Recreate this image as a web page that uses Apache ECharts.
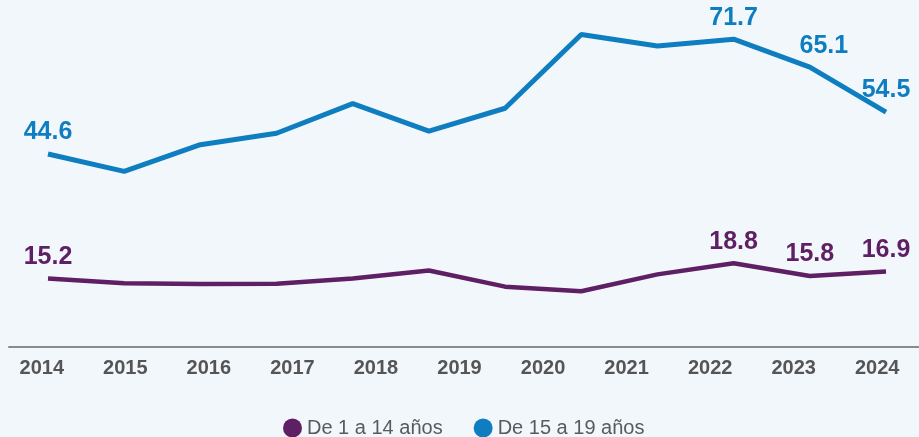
<!DOCTYPE html>
<html>
<head>
<meta charset="utf-8">
<script src="https://cdn.jsdelivr.net/npm/echarts@6/dist/echarts.min.js"></script>
<style>
  html, body { margin: 0; padding: 0; background: #f2f7fc; }
  #chart { width: 919px; height: 437px; }
</style>
</head>
<body>
<div id="chart"></div>
<script>
// Year tick labels along the bottom axis
const years = ['2014', '2015', '2016', '2017', '2018', '2019', '2020', '2021', '2022', '2023', '2024'];

// Series names
const seriesNames = ['De 1 a 14 años', 'De 15 a 19 años'];

// Plotted values (12 observations per series)
const youngValues = [15.2, 14.1, 13.9, 14.0, 15.2, 17.1, 13.3, 12.2, 16.2, 18.8, 15.8, 16.9];
const teenValues = [44.6, 40.5, 46.8, 49.5, 56.5, 50.0, 55.4, 72.8, 70.1, 71.7, 65.1, 54.5];

// Observations that carry a value label
const labelledPoints = [0, 9, 10, 11];

const purple = '#5e1f64';
const blue = '#0f7ec0';
const font = '"Liberation Sans", Arial, Helvetica, sans-serif';

function buildData(values, color) {
  return values.map((v, i) => {
    const item = { value: v };
    if (labelledPoints.includes(i)) {
      item.label = {
        show: true,
        position: 'top',
        distance: 9,
        color: color,
        fontFamily: font,
        fontWeight: 'bold',
        fontSize: 25,
        formatter: (p) => p.value.toFixed(1)
      };
      if (i === 10 && color === blue) item.label.offset = [14, 0];
    }
    return item;
  });
}

const pointIndex = teenValues.map((_, i) => i);

const chart = echarts.init(document.getElementById('chart'), null, { renderer: 'canvas' });

chart.setOption({
  backgroundColor: '#f2f7fc',
  animation: false,
  grid: [
    { left: 48, right: 33, top: 4, bottom: 94 },
    { left: 0, width: 924, top: 4, bottom: 90 },
    { left: 9, right: 0, top: 4, bottom: 90 }
  ],
  xAxis: [
    {
      gridIndex: 0, type: 'category', data: pointIndex, boundaryGap: false,
      show: false
    },
    {
      gridIndex: 1, type: 'category', data: years, boundaryGap: true,
      axisLine: { show: false }, axisTick: { show: false },
      axisLabel: {
        margin: 11, color: '#555555', fontFamily: font,
        fontWeight: 'bold', fontSize: 20
      }
    },
    {
      gridIndex: 2, type: 'category', data: years,
      axisLine: { show: true, lineStyle: { color: '#8a8a8a', width: 2 } },
      axisTick: { show: false }, axisLabel: { show: false }
    }
  ],
  yAxis: [
    { gridIndex: 0, type: 'value', min: 0, max: 80, show: false },
    { gridIndex: 1, type: 'value', show: false },
    { gridIndex: 2, type: 'value', show: false }
  ],
  legend: {
    left: 283, top: 418, padding: 0,
    icon: 'circle', itemWidth: 19, itemHeight: 19, itemGap: 31,
    textStyle: { color: '#5a5a5a', fontFamily: font, fontSize: 20, padding: [0, 0, 0, 0] },
    data: seriesNames
  },
  series: [
    {
      name: seriesNames[0], type: 'line', xAxisIndex: 0, yAxisIndex: 0,
      data: buildData(youngValues, purple),
      symbol: 'circle', symbolSize: 0, showSymbol: true, color: purple,
      lineStyle: { color: purple, width: 4.5 }
    },
    {
      name: seriesNames[1], type: 'line', xAxisIndex: 0, yAxisIndex: 0,
      data: buildData(teenValues, blue),
      symbol: 'circle', symbolSize: 0, showSymbol: true, color: blue,
      lineStyle: { color: blue, width: 5 }
    }
  ]
});
</script>
</body>
</html>
